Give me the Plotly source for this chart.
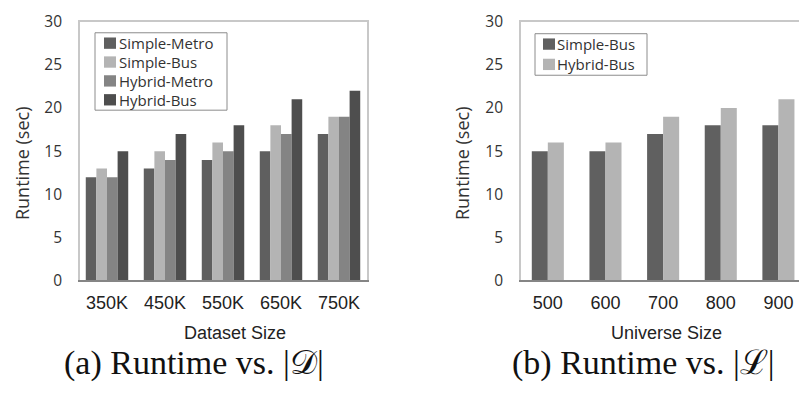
import plotly.graph_objects as go

# ---- data -------------------------------------------------------------
dataset_sizes = ["350K", "450K", "550K", "650K", "750K"]
simple_metro = [12, 13, 14, 15, 17]
simple_bus = [13, 15, 16, 18, 19]
hybrid_metro = [12, 14, 15, 17, 19]
hybrid_bus = [15, 17, 18, 21, 22]

universe_sizes = ["500", "600", "700", "800", "900"]
simple_bus_u = [15, 15, 17, 18, 18]
hybrid_bus_u = [16, 16, 19, 20, 21]

y_ticks = [0, 5, 10, 15, 20, 25, 30]

# ---- styling ----------------------------------------------------------
W, H = 799, 393
colors_a = ["#5f5f5f", "#b4b4b4", "#848484", "#4e4e4e"]
colors_b = ["#606060", "#b4b4b4"]
names_a = ["Simple-Metro", "Simple-Bus", "Hybrid-Metro", "Hybrid-Bus"]
names_b = ["Simple-Bus", "Hybrid-Bus"]
series_a = [simple_metro, simple_bus, hybrid_metro, hybrid_bus]
series_b = [simple_bus_u, hybrid_bus_u]

SANS = "Open Sans"
ARIAL = "Liberation Sans"
SERIF = "Liberation Serif"
BORDER = "#c8c8c8"
AXIS = "#858585"


def px(x):
    return x / W


def py(y):
    return 1 - y / H


fig = go.Figure()

# Panel (a): four bars per dataset size
bw_a = 0.183
for i, (name, vals, col) in enumerate(zip(names_a, series_a, colors_a)):
    fig.add_trace(go.Bar(
        x=dataset_sizes, y=vals, name=name, marker_color=col,
        marker_line_width=0, width=bw_a, offset=-2 * bw_a + i * bw_a,
        xaxis="x", yaxis="y", showlegend=False,
    ))

# Panel (b): two bars per universe size
bw_b = 0.278
for i, (name, vals, col) in enumerate(zip(names_b, series_b, colors_b)):
    fig.add_trace(go.Bar(
        x=universe_sizes, y=vals, name=name, marker_color=col,
        marker_line_width=0, width=bw_b, offset=-bw_b + i * bw_b,
        xaxis="x2", yaxis="y2", showlegend=False,
    ))

y0, y1 = py(285), py(10)
xa = dict(showgrid=False, zeroline=False, showline=False, ticks="",
          tickfont=dict(family=ARIAL, size=18, color="#222222"),
          ticklabelstandoff=9,
          type="category", fixedrange=True)
ya = dict(showgrid=False, zeroline=False, showline=False, ticks="",
          range=[0, 30], tickvals=y_ticks,
          tickfont=dict(family=SANS, size=15.5, color="#333333"),
          ticklabelstandoff=15, ticklabeloverflow="allow", fixedrange=True)

fig.update_layout(
    width=W, height=H, margin=dict(l=0, r=0, t=0, b=0),
    paper_bgcolor="white", plot_bgcolor="white",
    barmode="overlay",
    xaxis=dict(xa, domain=[px(78), px(368)], range=[-0.5, 4.5], anchor="y"),
    yaxis=dict(ya, domain=[y0, y1], anchor="x"),
    xaxis2=dict(xa, domain=[px(519), 1.0], range=[-0.5, 4.357], anchor="y2"),
    yaxis2=dict(ya, domain=[y0, y1], anchor="x2"),
)

shapes = []
# plot frames: light grey left/top/right, darker base line
shapes.append(dict(type="path", xref="paper", yref="paper",
                   path=f"M{px(79)},{py(285)} L{px(79)},{py(9.5)} L{px(368)},{py(9.5)} L{px(368)},{py(285)}",
                   line=dict(color=BORDER, width=2)))
shapes.append(dict(type="path", xref="paper", yref="paper",
                   path=f"M{px(520)},{py(285)} L{px(520)},{py(9.5)} L{px(800)},{py(9.5)}",
                   line=dict(color=BORDER, width=2)))
shapes.append(dict(type="line", xref="paper", yref="paper",
                   x0=px(78), x1=px(369), y0=py(285), y1=py(285),
                   line=dict(color=AXIS, width=2)))
shapes.append(dict(type="line", xref="paper", yref="paper",
                   x0=px(519), x1=px(800), y0=py(285), y1=py(285),
                   line=dict(color=AXIS, width=2)))

annotations = []


def legend_box(x0, y0_, x1, y1_, names, cols, row0, step, sw_x, tx):
    shapes.append(dict(type="rect", xref="paper", yref="paper",
                       x0=px(x0), x1=px(x1), y0=py(y1_), y1=py(y0_),
                       line=dict(color="#8c8c8c", width=1), fillcolor="white"))
    for k, (n, c) in enumerate(zip(names, cols)):
        cy = row0 + k * step
        shapes.append(dict(type="rect", xref="paper", yref="paper",
                           x0=px(sw_x), x1=px(sw_x + 12), y0=py(cy + 6), y1=py(cy - 6),
                           line=dict(width=0), fillcolor=c))
        annotations.append(dict(text=n, xref="paper", yref="paper",
                                x=px(tx), y=py(cy), xanchor="left", yanchor="middle",
                                showarrow=False,
                                font=dict(family=SANS, size=15, color="#333333")))


legend_box(95, 22, 227, 104, names_a, colors_a, 33, 20, 104, 117)
legend_box(535, 23, 647, 67, names_b, colors_b, 34, 21.5, 543, 555)

# axis titles
for text, x in (("Dataset Size", 235), ("Universe Size", 666)):
    annotations.append(dict(text=text, xref="paper", yref="paper", x=px(x), y=py(340),
                            xanchor="center", yanchor="middle", showarrow=False,
                            font=dict(family=ARIAL, size=18, color="#222222")))
for x in (22, 462):
    annotations.append(dict(text="Runtime (sec)", xref="paper", yref="paper",
                            x=px(x), y=py(160), xanchor="center", yanchor="middle",
                            textangle=-90, showarrow=False,
                            font=dict(family=SANS, size=18, color="#333333")))

# sub-figure captions
for text, x in (("(a) Runtime vs. |𝒟|", 194), ("(b) Runtime vs. |ℒ|", 643)):
    annotations.append(dict(text=text, xref="paper", yref="paper", x=px(x), y=py(372),
                            xanchor="center", yanchor="middle", showarrow=False,
                            font=dict(family=SERIF, size=34, color="#111111")))

fig.update_layout(shapes=shapes, annotations=annotations)
fig.write_html("out.html")
